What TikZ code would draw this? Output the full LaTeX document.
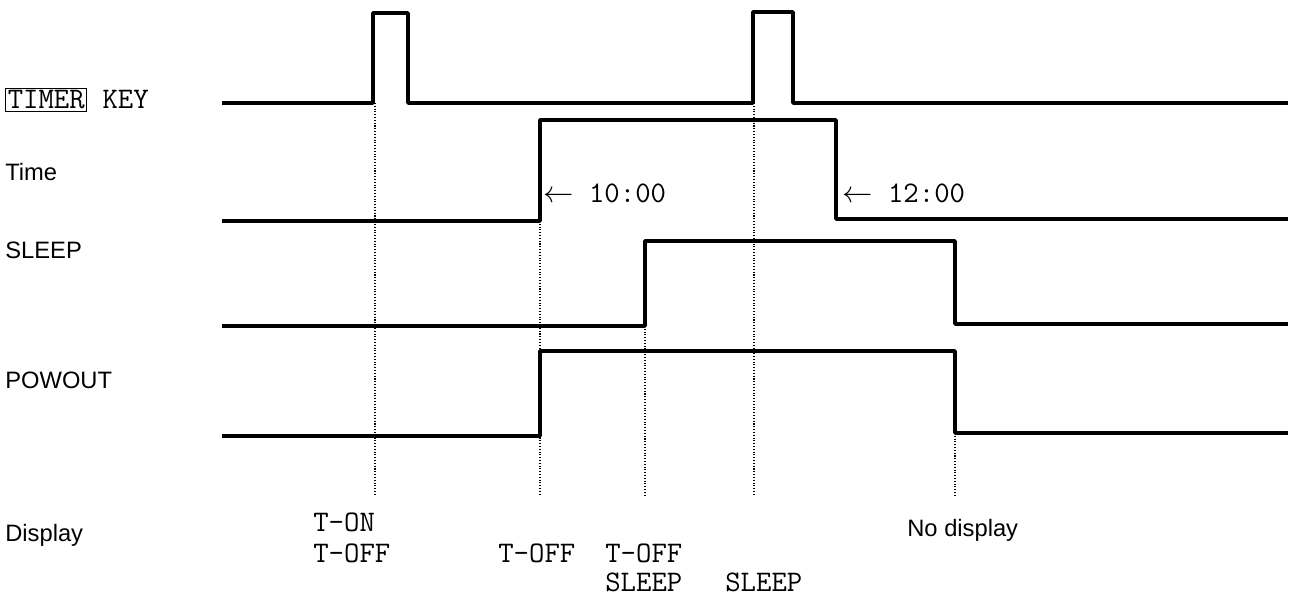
\documentclass[tikz,border=0pt]{standalone}
\usepackage{fontspec}
\setsansfont{Liberation Sans}
\usetikzlibrary{positioning}

\begin{document}
\begin{tikzpicture}[
    x=0.02cm, y=-0.02cm,
    sig/.style={line width=2pt, line join=round},
    guide/.style={densely dotted, line width=0.6pt},
    lbl/.style={font=\sffamily\fontsize{13.5}{16}\selectfont, anchor=west, inner sep=0pt},
    mono/.style={font=\ttfamily\fontsize{17}{20}\selectfont, anchor=west, inner sep=0pt},
]
\useasboundingbox (0,0) rectangle (1290,612);

% ── row labels ──────────────────────────────────────────────────────────────
\node[mono] (keylbl) at (5,100) {\setlength{\fboxsep}{1pt}\fbox{TIMER} KEY};
\node[lbl] (timelbl)  at (5,172) {Time};
\node[lbl] (sleeplbl) at (5,250) {SLEEP};
\node[lbl] (powlbl)   at (5,380) {POWOUT};
\node[lbl] (displbl)  at (5,535) {Display};

% ── waveforms ───────────────────────────────────────────────────────────────
\draw[sig] (222,103) -- (373,103) -- (373,13) -- (408,13) -- (408,103)
    -- (753,103) -- (753,12) -- (793,12) -- (793,103) -- (1288,103);
\draw[sig] (222,221) -- (540,221) -- (540,120) -- (836,120) -- (836,219) -- (1288,219);
\draw[sig] (222,326) -- (645,326) -- (645,241) -- (955,241) -- (955,324) -- (1288,324);
\draw[sig] (222,436) -- (540,436) -- (540,351) -- (955,351) -- (955,433) -- (1288,433);

% ── event markers ───────────────────────────────────────────────────────────
\coordinate (ton)   at (375,103);
\coordinate (toff)  at (540,221);
\coordinate (slp)   at (645,326);
\coordinate (slp2)  at (754,103);
\coordinate (noff)  at (955,433);
\foreach \ev in {ton,toff,slp,slp2,noff}
    \draw[guide] (\ev) -- (\ev |- 0,495);

% ── time annotations ────────────────────────────────────────────────────────
\node[mono] (t10) at (543,193) {$\leftarrow$ 10:00};
\node[mono] (t12) at (842,193) {$\leftarrow$ 12:00};

% ── display contents ────────────────────────────────────────────────────────
\node[mono] (d1a) at (313,522) {T-ON};
\node[mono] (d1b) at (313,553) {T-OFF};
\node[mono] (d2)  at (498,553) {T-OFF};
\node[mono] (d3a) at (605,553) {T-OFF};
\node[mono] (d3b) at (605,582) {SLEEP};
\node[mono] (d4)  at (725,582) {SLEEP};
\node[lbl]  (d5)  at (907,530) {No display};

\end{tikzpicture}
\end{document}
